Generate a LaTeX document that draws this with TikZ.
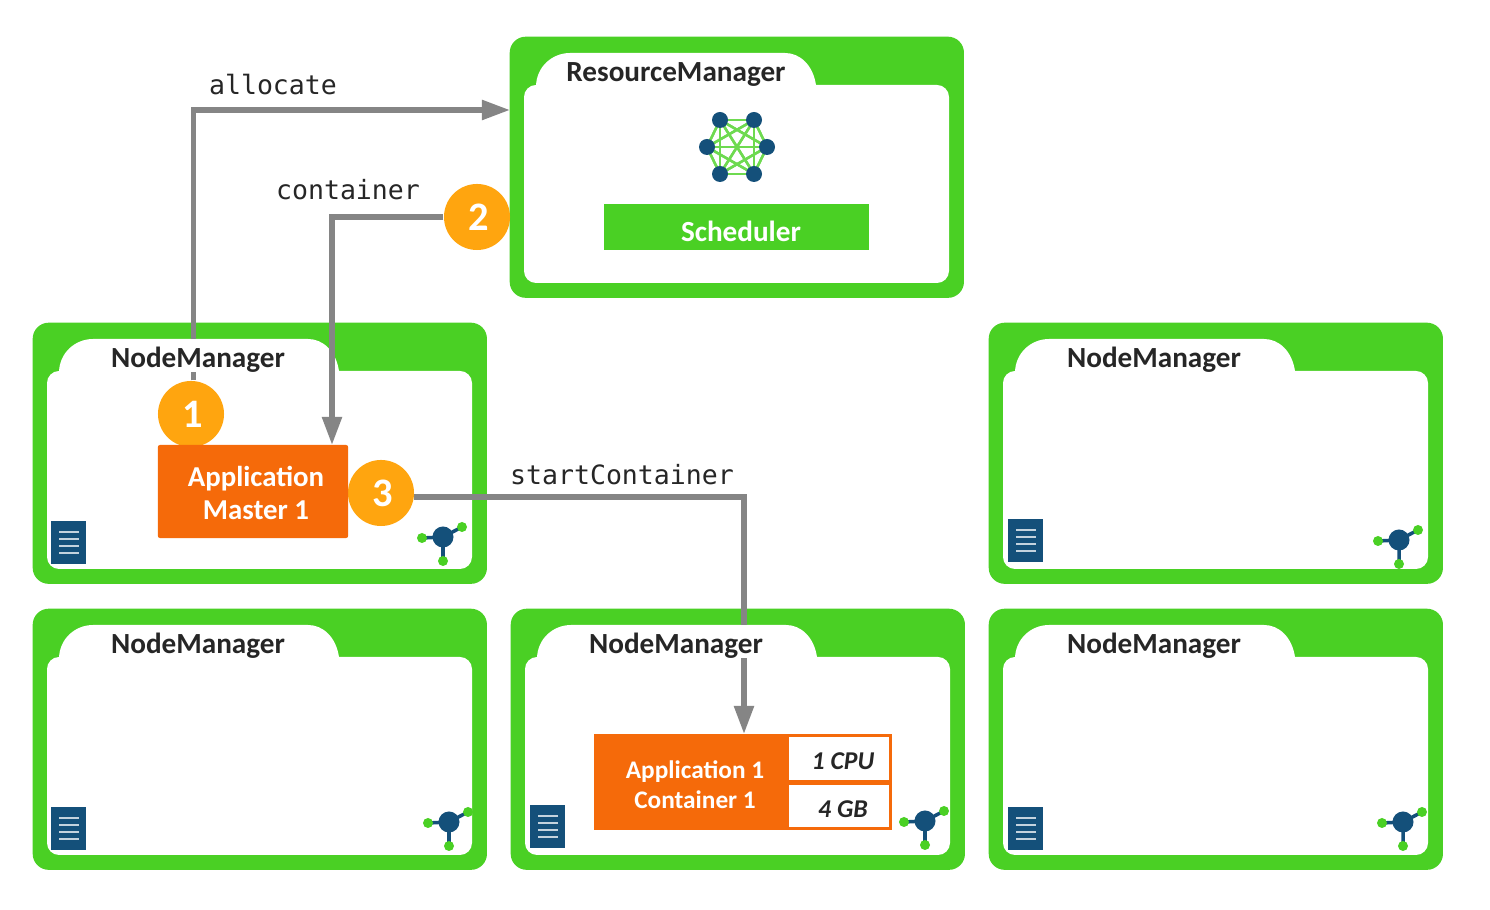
\documentclass[tikz,border=0pt]{standalone}
\usepackage{fontspec}
\setmainfont{Carlito}
\setmonofont{DejaVu Sans Mono}
\usetikzlibrary{positioning, calc, arrows.meta}

\definecolor{mgrgreen}{HTML}{4AD024}
\definecolor{apporange}{HTML}{F56A0A}
\definecolor{stepamber}{HTML}{FFA50F}
\definecolor{iconblue}{HTML}{14507A}
\definecolor{flowgray}{HTML}{858585}

\tikzset{
  panelbox/.style={fill=mgrgreen, rounded corners=.16cm, minimum width=4.54cm, minimum height=2.61cm, inner sep=0pt, anchor=north west},
  mgrlabel/.style={fill=white, text=black!85, inner sep=0pt, text height=.29cm, text depth=.04cm, anchor=base, font=\fontsize{8.3}{9}\selectfont\bfseries},
  stepdot/.style={circle, fill=stepamber, text=white, minimum size=.66cm, inner sep=0pt, font=\fontsize{11.5}{12}\selectfont\bfseries},
  appbox/.style={fill=apporange, text=white, inner sep=0pt, align=center, font=\fontsize{8.2}{9.6}\selectfont\bfseries},
  cellbox/.style={fill=white, inner sep=0pt, minimum width=1cm},
  celltext/.style={text=black!85, inner sep=0pt, font=\fontsize{7.3}{8}\selectfont\bfseries\itshape},
  flow/.style={draw=flowgray, line width=1.5pt, -{Triangle[length=.28cm,width=.19cm]}},
  calltext/.style={inner sep=0pt, text=black!85, font=\fontsize{7.55}{9}\selectfont\ttfamily}
}

% 文書アイコン
\newcommand{\docicon}[2]{
  \begin{scope}[shift={(#1,#2)}]
    \fill[iconblue] (0,0) rectangle (35,43);
    \foreach \ly in {11,18,25,32}
      \draw[white!75!iconblue, line width=.7pt] (8,\ly) -- (28,\ly);
  \end{scope}
}
% ハブのアイコン
\newcommand{\hubicon}[2]{
  \begin{scope}[shift={(#1,#2)}]
    \draw[iconblue, line width=1pt] (-21,1) -- (0,0) -- (19,-10) (0,0) -- (0,24);
    \fill[mgrgreen] (-21,1) circle[radius=5] (19,-10) circle[radius=5] (0,24) circle[radius=5];
    \fill[iconblue] (0,0) circle[radius=10.5];
  \end{scope}
}

\begin{document}
\begin{tikzpicture}[x=.01cm, y=-.01cm]
  \useasboundingbox (0,0) rectangle (1490,910);

  % 緑の枠
  \foreach \pname/\px/\py in {rm/510/37, nma/33/323, nmb/989/323, nmc/33/609, nmd/511/609, nme/989/609} {
    \node[panelbox] (\pname) at (\px-1,\py-1) {};
    \begin{scope}[shift={(\px,\py)}]
      \fill[white, rounded corners=.12cm] (14,48) rectangle (439,246);
      \fill[white] (26,50) .. controls (26,30) and (42,16) .. (60,16) -- (275,16) .. controls (290,16) and (303,28) .. (306,48) -- (306,50) -- cycle;
    \end{scope}
  }

  % アイコン
  \docicon{51}{521}
  \docicon{1008}{519}
  \docicon{51}{807}
  \docicon{530}{805}
  \docicon{1008}{807}
  \hubicon{443}{537}
  \hubicon{1399}{540}
  \hubicon{449}{822}
  \hubicon{925}{821}
  \hubicon{1403}{822}

  % スケジューラのアイコン
  \foreach \a/\ax/\ay in {1/720/120, 2/754/120, 3/767/147, 4/754/174, 5/720/174, 6/707/147}
    \foreach \b/\bx/\by in {1/720/120, 2/754/120, 3/767/147, 4/754/174, 5/720/174, 6/707/147}
      \draw[mgrgreen!80, line width=.7pt] (\ax,\ay) -- (\bx,\by);
  \foreach \ax/\ay in {720/120, 754/120, 767/147, 754/174, 720/174, 707/147}
    \fill[iconblue] (\ax,\ay) circle[radius=8];
  \node[fill=mgrgreen, minimum width=2.65cm, minimum height=.46cm, inner sep=0pt] (sched) at (736.5,227) {};
  \node[text=white, inner sep=0pt, font=\fontsize{8.3}{9}\selectfont\bfseries] (schedtext) at (741,231) {Scheduler};

  % 番号と箱
  \node[stepdot] (one) at (191,414) {\hspace{.04cm}1};
  \node[stepdot] (two) at (477,217) {\hspace{.03cm}2};
  \node[stepdot] (three) at (381,493) {\hspace{.04cm}3};
  \node[appbox, rounded corners=.02cm, minimum width=1.9cm, minimum height=.93cm] (master) at (253,491.5) {};
  \node[appbox] (mastertext) at (256,493) {Application\\Master 1};
  \node[fill=apporange, minimum width=2.98cm, minimum height=.96cm, inner sep=0pt] (contbox) at (743,782) {};
  \node[appbox, font=\fontsize{7.2}{8.6}\selectfont\bfseries] (conttext) at (695,785) {Application 1\\Container 1};
  \node[cellbox, minimum height=.43cm] (cpu) at (839,758.5) {};
  \node[cellbox, minimum height=.42cm] (mem) at (839,806) {};
  \node[celltext] (cputext) at (843,761) {1 CPU};
  \node[celltext] (memtext) at (843,809) {4 GB};

  % 矢印
  \coordinate (rmin) at (510,110);
  \coordinate (masterin) at (332,445);
  \coordinate (contin) at (744,734);
  \draw[flow] (one.86) |- (rmin);
  \draw[flow] (two.west) -| (masterin);
  \draw[flow] (three.-7) -| (contin);

  % ラベルの追加
  \node[calltext] (alloclabel) at (273,85) {allocate};
  \node[calltext] (contlabel) at (348,190) {container};
  \node[calltext] (startlabel) at (622,475) {startContainer};
  \node[mgrlabel] (rmlabel) at (676,82) {ResourceManager};
  \node[mgrlabel] (nmalabel) at (198,368) {NodeManager};
  \node[mgrlabel] (nmblabel) at (1154,368) {NodeManager};
  \node[mgrlabel] (nmclabel) at (198,654) {NodeManager};
  \node[mgrlabel] (nmdlabel) at (676,654) {NodeManager};
  \node[mgrlabel] (nmelabel) at (1154,654) {NodeManager};
\end{tikzpicture}
\end{document}
